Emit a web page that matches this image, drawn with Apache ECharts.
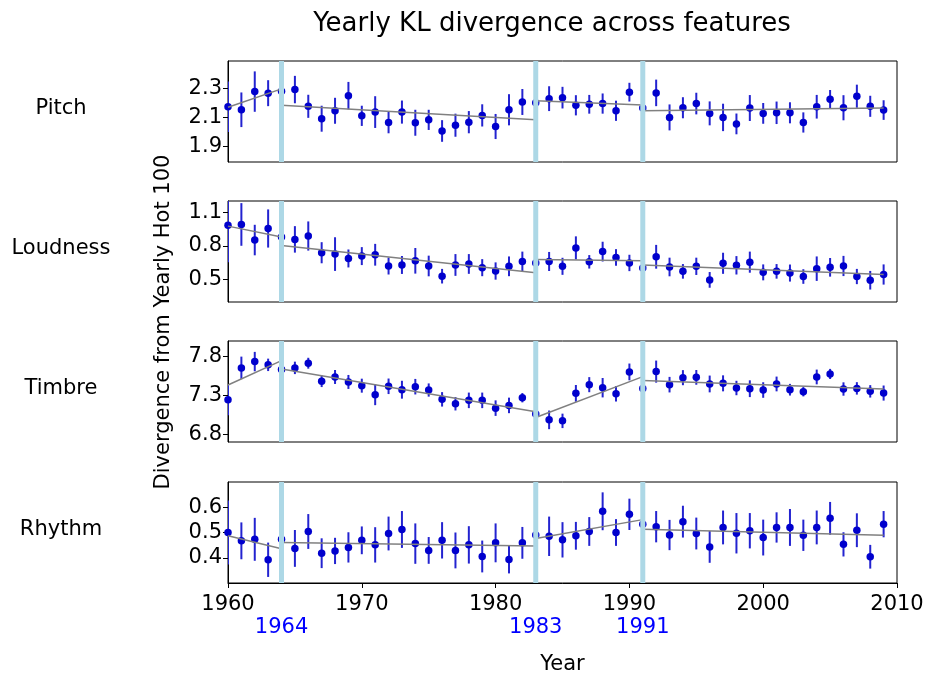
<!DOCTYPE html>
<html>
<head>
<meta charset="utf-8">
<script src="https://cdn.jsdelivr.net/npm/echarts@6/dist/echarts.min.js"></script>
<style>html,body{margin:0;padding:0;background:#fff}#c{width:928px;height:673px}</style>
</head>
<body>
<div id="c"></div>
<script>
const years = [1960,1961,1962,1963,1964,1965,1966,1967,1968,1969,
  1970,1971,1972,1973,1974,1975,1976,1977,1978,1979,
  1980,1981,1982,1983,1984,1985,1986,1987,1988,1989,
  1990,1991,1992,1993,1994,1995,1996,1997,1998,1999,
  2000,2001,2002,2003,2004,2005,2006,2007,2008,2009];
const featureNames = ['Pitch','Loudness','Timbre','Rhythm'];
const breakYears = [1964,1983,1991];
const segStart = [1960,1964,1983,1991];
const segEnd = [1964,1983,1991,2009];
const xTicks = [1960,1970,1980,1990,2000,2010];

const pitchVal = [2.173,2.152,2.278,2.267,2.28,2.292,2.176,2.09,2.145,2.25,
  2.11,2.136,2.064,2.136,2.062,2.082,2.005,2.045,2.066,2.113,
  2.036,2.152,2.206,2.20,2.229,2.236,2.183,2.19,2.195,2.145,
  2.274,2.165,2.269,2.099,2.166,2.195,2.127,2.099,2.054,2.164,
  2.127,2.131,2.131,2.064,2.173,2.225,2.166,2.246,2.176,2.15];
const pitchErr = [0.175,0.12,0.14,0.09,0.09,0.095,0.08,0.09,0.09,0.095,
  0.07,0.11,0.075,0.08,0.09,0.07,0.075,0.08,0.077,0.077,
  0.087,0.108,0.09,0.08,0.086,0.075,0.07,0.065,0.07,0.07,
  0.065,0.08,0.092,0.09,0.073,0.075,0.083,0.095,0.072,0.09,
  0.072,0.078,0.073,0.07,0.082,0.064,0.087,0.08,0.073,0.068];
const loudVal = [0.985,0.991,0.852,0.955,0.88,0.858,0.888,0.739,0.727,0.688,
  0.709,0.721,0.621,0.63,0.667,0.621,0.53,0.63,0.639,0.606,
  0.576,0.618,0.661,0.648,0.661,0.618,0.782,0.658,0.749,0.697,
  0.648,0.603,0.703,0.612,0.573,0.618,0.497,0.645,0.627,0.655,
  0.564,0.573,0.558,0.527,0.597,0.609,0.621,0.527,0.494,0.545];
const loudErr = [0.33,0.19,0.136,0.17,0.1,0.118,0.13,0.094,0.15,0.08,
  0.08,0.097,0.076,0.08,0.114,0.092,0.065,0.097,0.088,0.076,
  0.077,0.088,0.088,0.08,0.085,0.076,0.103,0.06,0.088,0.074,
  0.073,0.08,0.106,0.083,0.065,0.077,0.07,0.094,0.082,0.094,
  0.071,0.065,0.076,0.065,0.109,0.083,0.09,0.068,0.083,0.09];
const timbreVal = [7.244,7.654,7.735,7.693,7.632,7.654,7.714,7.482,7.537,7.473,
  7.425,7.309,7.417,7.373,7.412,7.369,7.249,7.192,7.236,7.236,
  7.136,7.171,7.27,7.059,6.985,6.972,7.326,7.438,7.399,7.321,
  7.602,7.39,7.606,7.438,7.528,7.532,7.447,7.455,7.395,7.386,
  7.369,7.447,7.373,7.347,7.537,7.576,7.382,7.39,7.352,7.33];
const timbreErr = [0.2,0.145,0.125,0.08,0.08,0.08,0.07,0.075,0.09,0.09,
  0.09,0.135,0.1,0.115,0.1,0.085,0.093,0.086,0.1,0.1,
  0.1,0.1,0.06,0.08,0.12,0.093,0.108,0.097,0.125,0.1,
  0.108,0.1,0.142,0.1,0.097,0.095,0.108,0.103,0.093,0.108,
  0.1,0.095,0.075,0.06,0.095,0.065,0.086,0.08,0.08,0.097];
const rhythmVal = [0.5,0.467,0.473,0.392,0.473,0.437,0.504,0.418,0.427,0.441,
  0.469,0.451,0.496,0.512,0.456,0.429,0.469,0.429,0.451,0.405,
  0.459,0.393,0.459,0.49,0.485,0.471,0.487,0.504,0.584,0.5,
  0.572,0.533,0.523,0.49,0.543,0.496,0.443,0.52,0.497,0.507,
  0.48,0.52,0.52,0.489,0.52,0.556,0.453,0.509,0.404,0.533];
const rhythmErr = [0.127,0.073,0.085,0.068,0.07,0.073,0.069,0.059,0.052,0.06,
  0.055,0.07,0.067,0.073,0.08,0.053,0.072,0.071,0.074,0.063,
  0.077,0.055,0.063,0.06,0.078,0.07,0.055,0.057,0.075,0.053,
  0.062,0.06,0.062,0.06,0.063,0.063,0.063,0.067,0.08,0.07,
  0.071,0.06,0.073,0.062,0.067,0.065,0.048,0.067,0.047,0.052];

const pitchTrend = [[2.169,2.297],[2.183,2.082],[2.215,2.185],[2.145,2.164]];
const loudTrend = [[0.976,0.88],[0.803,0.561],[0.679,0.667],[0.63,0.545]];
const timbreTrend = [[7.434,7.748],[7.641,7.089],[7.016,7.541],[7.49,7.382]];
const rhythmTrend = [[0.487,0.436],[0.46,0.447],[0.476,0.551],[0.513,0.489]];

const pitchTicks = [1.9,2.1,2.3];
const loudTicks = [0.5,0.8,1.1];
const timbreTicks = [6.8,7.3,7.8];
const rhythmTicks = [0.4,0.5,0.6];

const yRanges = [[1.79,2.49],[0.3,1.2],[6.7,8.0],[0.3,0.7]];

const features = [
  {val: pitchVal, err: pitchErr, trend: pitchTrend, ticks: pitchTicks},
  {val: loudVal, err: loudErr, trend: loudTrend, ticks: loudTicks},
  {val: timbreVal, err: timbreErr, trend: timbreTrend, ticks: timbreTicks},
  {val: rhythmVal, err: rhythmErr, trend: rhythmTrend, ticks: rhythmTicks}
];

const FONT = 'DejaVu Sans';
const gridTops = [61, 201, 341, 482];
const gridH = 101;
const plotLeft = 228, plotRight = 31;

const grid = [], xAxis = [], yAxis = [], series = [], graphic = [];
features.forEach((f, i) => {
  grid.push({left: plotLeft, right: plotRight, top: gridTops[i], height: gridH,
    outerBoundsMode: 'none', containLabel: false,
    show: true, borderColor: '#000', borderWidth: 1, backgroundColor: 'transparent'});
  const last = i === 3;
  xAxis.push({gridIndex: i, type: 'value', min: 1960, max: 2010, interval: 10,
    axisLine: {show: last, onZero: false, lineStyle: {color: '#000'}},
    axisTick: {show: last, length: 5, customValues: xTicks, lineStyle: {color: '#000'}},
    axisLabel: {show: last, fontSize: 21, color: '#000', fontFamily: FONT, margin: 11,
      customValues: xTicks, formatter: v => String(v)},
    splitLine: {show: false}});
  yAxis.push({gridIndex: i, type: 'value', min: yRanges[i][0], max: yRanges[i][1],
    axisLine: {show: true, lineStyle: {color: '#000'}},
    axisTick: {show: true, length: 5, customValues: f.ticks, lineStyle: {color: '#000'}},
    axisLabel: {fontSize: 21, color: '#000', fontFamily: FONT, margin: 6, customValues: f.ticks,
      formatter: v => v.toFixed(1)},
    splitLine: {show: false}});
  // error bars
  series.push({type: 'custom', xAxisIndex: i, yAxisIndex: i, clip: true, z: 2,
    data: years.map((y, k) => [y, f.val[k] - f.err[k], f.val[k] + f.err[k]]),
    renderItem: (params, api) => {
      const p1 = api.coord([api.value(0), api.value(1)]);
      const p2 = api.coord([api.value(0), api.value(2)]);
      return {type: 'line', shape: {x1: p1[0], y1: p1[1], x2: p2[0], y2: p2[1]},
        style: {stroke: '#2323d0', lineWidth: 2}};
    }});
  // points
  series.push({type: 'scatter', xAxisIndex: i, yAxisIndex: i, z: 3, symbolSize: 7.5,
    itemStyle: {color: '#0000cd', opacity: 1},
    data: years.map((y, k) => [y, f.val[k]])});
  // trend segments
  f.trend.forEach((t, s) => {
    series.push({type: 'line', xAxisIndex: i, yAxisIndex: i, z: 4, symbol: 'none',
      lineStyle: {color: '#808080', width: 1.5}, silent: true,
      data: [[segStart[s], t[0]], [segEnd[s], t[1]]]});
  });
  // breakpoint vertical lines
  series.push({type: 'custom', xAxisIndex: i, yAxisIndex: i, z: 5, clip: true,
    data: breakYears.map(y => [y]),
    renderItem: (params, api) => {
      const p1 = api.coord([api.value(0), yRanges[i][0]]);
      const p2 = api.coord([api.value(0), yRanges[i][1]]);
      return {type: 'line', shape: {x1: p1[0], y1: p1[1], x2: p2[0], y2: p2[1]},
        style: {stroke: '#add8e6', lineWidth: 5}};
    }});
  graphic.push({type: 'text', x: 61, y: gridTops[i] + 48,
    style: {text: featureNames[i], font: '21px "DejaVu Sans"', fill: '#000',
      textAlign: 'center', textVerticalAlign: 'middle'}});
});

// blue break-year labels + Year title on an extra axis under the bottom panel
xAxis.push({gridIndex: 3, type: 'value', min: 1960, max: 2010, position: 'bottom', offset: 27,
  axisLine: {show: false}, axisTick: {show: false}, splitLine: {show: false},
  axisLabel: {customValues: breakYears, color: '#0000ff', fontSize: 21, fontFamily: FONT, margin: 7,
    formatter: v => String(v)},
  name: 'Year', nameLocation: 'middle', nameGap: 44,
  nameTextStyle: {fontSize: 21, color: '#000', fontFamily: FONT}});

graphic.push({type: 'text', x: 552, y: 24,
  style: {text: 'Yearly KL divergence across features', font: '26px "DejaVu Sans"', fill: '#000',
    textAlign: 'center', textVerticalAlign: 'middle'}});
graphic.push({type: 'text', x: 164, y: 322, rotation: Math.PI / 2,
  style: {text: 'Divergence from Yearly Hot 100', font: '21px "DejaVu Sans"', fill: '#000',
    textAlign: 'center', textVerticalAlign: 'middle'}});

const chart = echarts.init(document.getElementById('c'), null, {renderer: 'canvas'});
chart.setOption({animation: false, backgroundColor: '#fff', grid, xAxis, yAxis, series, graphic});
</script>
</body>
</html>
